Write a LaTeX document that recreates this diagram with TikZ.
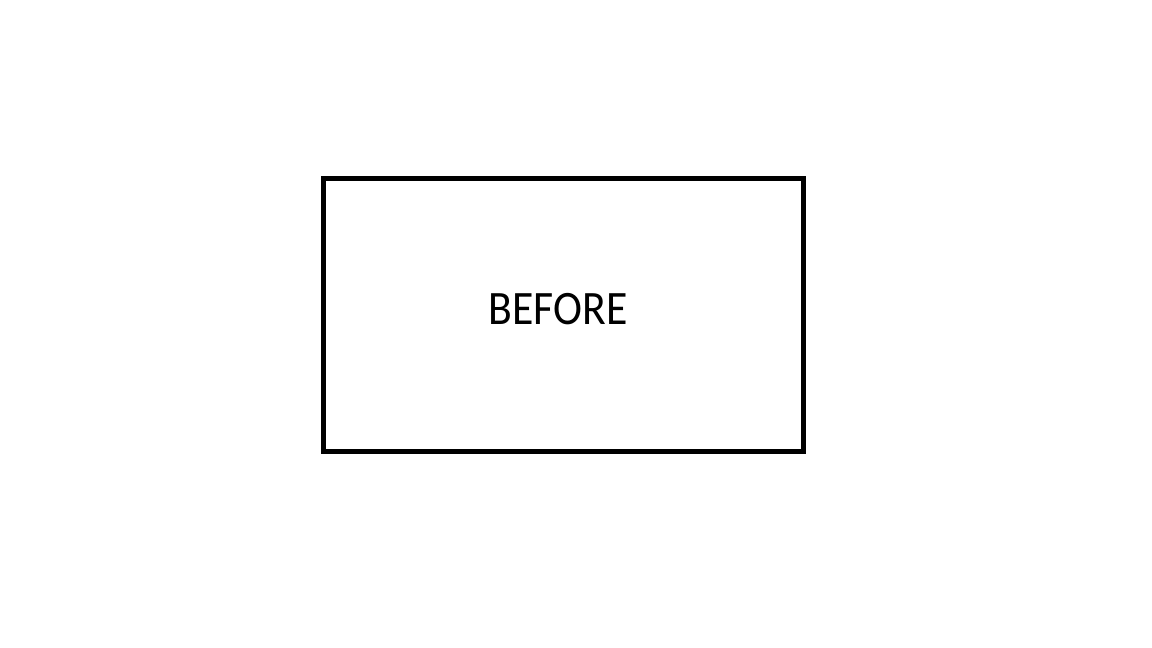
\documentclass[tikz,border=0pt]{standalone}
\usepackage{fontspec}
\setmainfont{Carlito}
\newfontfamily\labelfont[FakeStretch=0.91]{Carlito}
\begin{document}
\begin{tikzpicture}[x=1pt,y=-1pt,
  boxstyle/.style={draw=black,line width=5pt},
  labelstyle/.style={font=\labelfont\fontsize{48}{56}\selectfont,inner sep=0pt,anchor=base}]
\useasboundingbox (0,0) rectangle (1152,648);
\draw[boxstyle] (323.5,178.5) rectangle (803.5,451.5);
\node[labelstyle] (lbl) at (558,324.3) {BEFORE};
\end{tikzpicture}
\end{document}
